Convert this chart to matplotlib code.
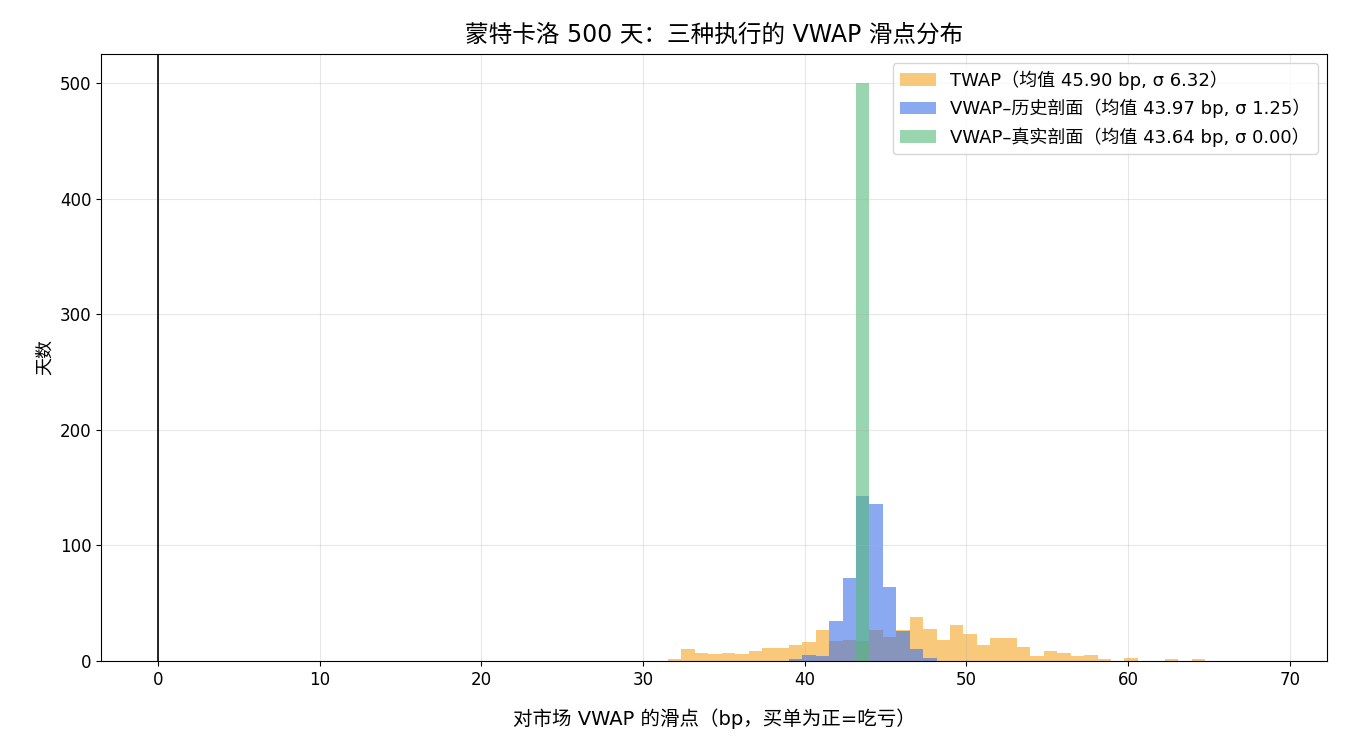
import numpy as np
import matplotlib
matplotlib.use("Agg")
import matplotlib.pyplot as plt

plt.rcParams['font.family'] = ['DejaVu Sans', 'Noto Sans CJK SC']
plt.rcParams['axes.unicode_minus'] = False

# shared bin edges (bp)
BIN_START = 31.55
BIN_WIDTH = 0.83
N_BINS = 40
edges = BIN_START + BIN_WIDTH * np.arange(N_BINS + 1)
centers = (edges[:-1] + edges[1:]) / 2

twap_counts = [2, 10, 7, 6, 7, 6, 9, 11, 11, 14,
               16, 27, 17, 18, 17, 27, 21, 27, 38, 28,
               18, 31, 23, 14, 20, 20, 12, 4, 9, 7,
               4, 5, 2, 0, 3, 0, 0, 2, 0, 2]
vwap_hist_counts = [0, 0, 0, 0, 0, 0, 0, 0, 0, 2,
                    5, 4, 35, 72, 143, 136, 64, 26, 10, 3,
                    0, 0, 0, 0, 0, 0, 0, 0, 0, 0,
                    0, 0, 0, 0, 0, 0, 0, 0, 0, 0]
vwap_true_counts = [0] * N_BINS
vwap_true_counts[14] = 500

labels = [
    "TWAP（均值 45.90 bp, σ 6.32）",
    "VWAP–历史剖面（均值 43.97 bp, σ 1.25）",
    "VWAP–真实剖面（均值 43.64 bp, σ 0.00）",
]
colors = ["#f5a623", "#3c71e9", "#55b97b"]

fig = plt.figure(figsize=(13.5, 7.5), dpi=100)
ax = fig.add_axes([0.075, 0.1187, 0.908, 0.8093])

for counts, lab, col in zip([twap_counts, vwap_hist_counts, vwap_true_counts], labels, colors):
    ax.hist(centers, bins=edges, weights=counts, color=col, alpha=0.6, label=lab)

ax.axvline(0, color="black", lw=1.2)
ax.set_xlim(-3.5, 72.3)
ax.set_ylim(0, 525)
ax.grid(True, alpha=0.3)
ax.tick_params(labelsize=12)
ax.set_title("蒙特卡洛 500 天：三种执行的 VWAP 滑点分布", fontsize=17, pad=9)
ax.set_xlabel("对市场 VWAP 的滑点（bp，买单为正=吃亏）", fontsize=14, labelpad=14)
ax.set_ylabel("天数", fontsize=13)
ax.legend(loc="upper right", fontsize=13)

fig.savefig("out.png", dpi=100)
